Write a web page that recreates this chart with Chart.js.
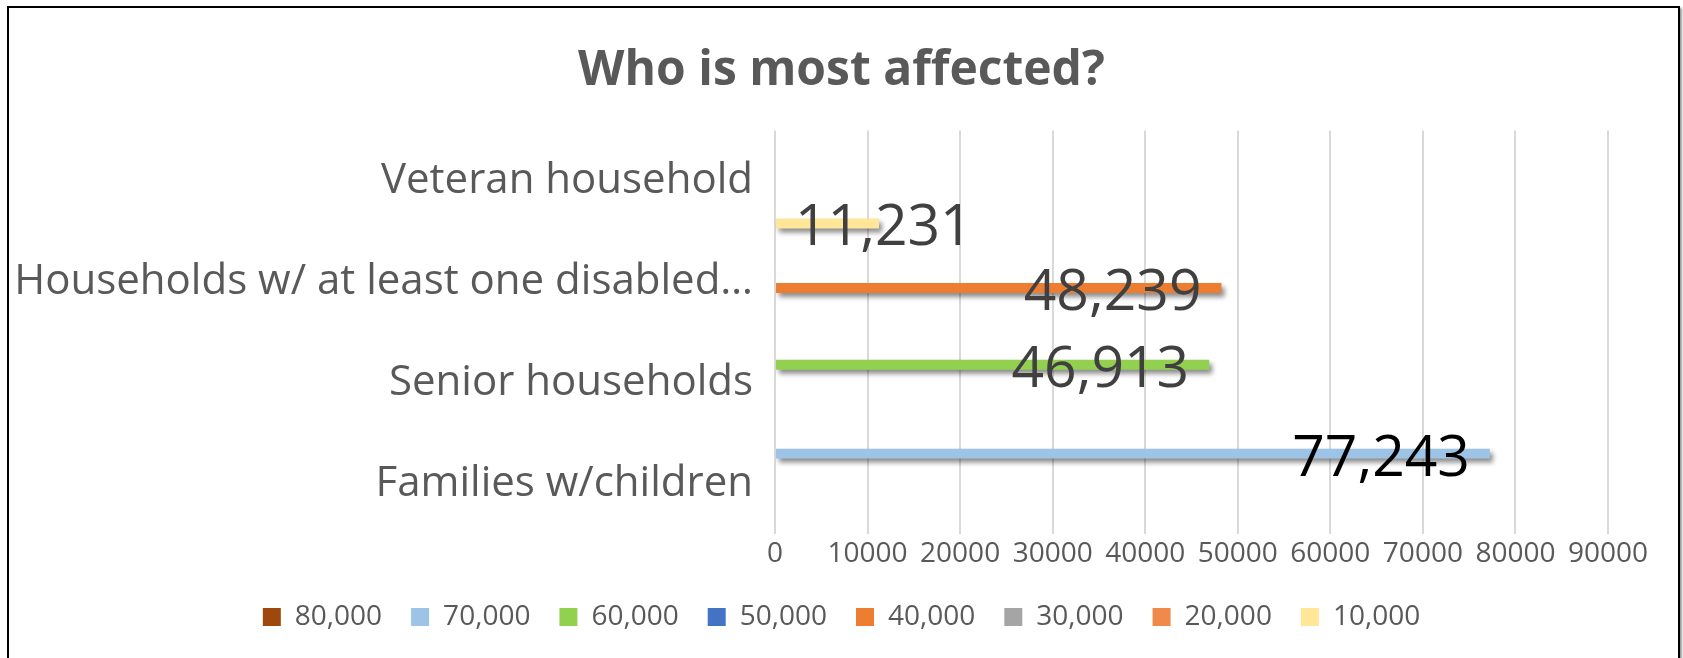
<!DOCTYPE html>
<html>
<head>
<meta charset="utf-8">
<script src="https://cdn.jsdelivr.net/npm/chart.js@4.4.1/dist/chart.umd.min.js"></script>
<style>
    html, body { margin: 0; padding: 0; background: #fff; overflow: hidden; }
    #frame {
        position: absolute;
        left: 7px; top: 6px;
        width: 1669px; height: 720px;
        border: 2px solid #000;
        box-shadow: 2px 2px 2px #9a9a9a;
    }
    #chart { position: absolute; left: 0; top: 0; }
</style>
</head>
<body>
<div id="frame"></div>
<canvas id="chart" width="1683" height="658"></canvas>
<script>
// categories, top to bottom
const categories = ['Veteran household', 'Households w/ at least one disabled…', 'Senior households', 'Families w/children'];
const seriesNames = ['80,000', '70,000', '60,000', '50,000', '40,000', '30,000', '20,000', '10,000'];

// one array per series, one slot per category
const values80k = [null, null, null, null];
const values70k = [null, null, null, 77243];
const values60k = [null, null, 46913, null];
const values50k = [null, null, null, null];
const values40k = [null, 48239, null, null];
const values30k = [null, null, null, null];
const values20k = [null, null, null, null];
const values10k = [11231, null, null, null];

const xMin = 0;
const xMax = 90000;
const xStep = 10000;

const seriesValues = [values80k, values70k, values60k, values50k, values40k, values30k, values20k, values10k];
const seriesColors = ['#9E480E', '#9DC3E6', '#92D050', '#4472C4', '#ED7D31', '#A5A5A5', '#F08A4B', '#FFE699'];
const labelColors = ['#404040', '#000000', '#404040', '#404040', '#404040', '#404040', '#404040', '#404040'];

Chart.defaults.font.family = "'Open Sans', sans-serif";
Chart.defaults.color = '#595959';

// title and legend are centred on the whole canvas, not the padded box
const centerBlocks = {
    id: 'centerBlocks',
    afterLayout(chart) {
        [chart.titleBlock, chart.legend].forEach((box) => {
            if (!box) return;
            box.left = 0;
            box.right = chart.width;
        });
    }
};

// soft drop shadow under the bars + big value labels on top
const barExtras = {
    id: 'barExtras',
    beforeDatasetsDraw(chart) {
        const ctx = chart.ctx;
        ctx.save();
        ctx.shadowColor = 'rgba(0, 0, 0, 0.45)';
        ctx.shadowBlur = 5;
        ctx.shadowOffsetX = 3;
        ctx.shadowOffsetY = 4;
    },
    afterDatasetsDraw(chart) {
        const ctx = chart.ctx;
        ctx.restore();
        ctx.save();
        ctx.font = "57px 'Open Sans', sans-serif";
        ctx.textAlign = 'left';
        ctx.textBaseline = 'alphabetic';
        chart.data.datasets.forEach((ds, i) => {
            const meta = chart.getDatasetMeta(i);
            meta.data.forEach((bar, j) => {
                const v = ds.data[j];
                if (v === null || v === undefined) return;
                const text = v.toLocaleString('en-US');
                const w = ctx.measureText(text).width;
                const right = Math.max(bar.x - 20, bar.base + 19 + w);
                ctx.fillStyle = labelColors[i];
                ctx.fillText(text, right - w, bar.y + 22);
            });
        });
        ctx.restore();
    }
};

new Chart(document.getElementById('chart').getContext('2d'), {
    type: 'bar',
    data: {
        labels: categories,
        datasets: seriesNames.map((name, i) => ({
            label: name,
            data: seriesValues[i],
            backgroundColor: seriesColors[i],
            borderWidth: 0,
            categoryPercentage: 0.96,
            barPercentage: 0.82
        }))
    },
    options: {
        indexAxis: 'y',
        responsive: false,
        animation: false,
        layout: { padding: { left: 10, right: 75, top: 0, bottom: 17 } },
        plugins: {
            title: {
                display: true,
                text: 'Who is most affected?',
                color: '#595959',
                font: { size: 48, weight: 'bold' },
                padding: { top: 43, bottom: 30 }
            },
            legend: {
                position: 'bottom',
                labels: {
                    boxWidth: 18,
                    boxHeight: 18,
                    padding: 29,
                    color: '#595959',
                    font: { size: 28 }
                }
            },
            tooltip: { enabled: false }
        },
        scales: {
            x: {
                min: xMin,
                max: xMax,
                ticks: {
                    stepSize: xStep,
                    padding: 3,
                    color: '#595959',
                    font: { size: 28 },
                    callback: (v) => String(v)
                },
                grid: { color: '#d9d9d9', lineWidth: 2, drawTicks: false },
                border: { display: false }
            },
            y: {
                afterFit: (scale) => { scale.width = 765; },
                ticks: {
                    padding: 14,
                    color: '#595959',
                    font: { size: 42 }
                },
                grid: { display: false },
                border: { display: false }
            }
        }
    },
    plugins: [centerBlocks, barExtras]
});
</script>
</body>
</html>
